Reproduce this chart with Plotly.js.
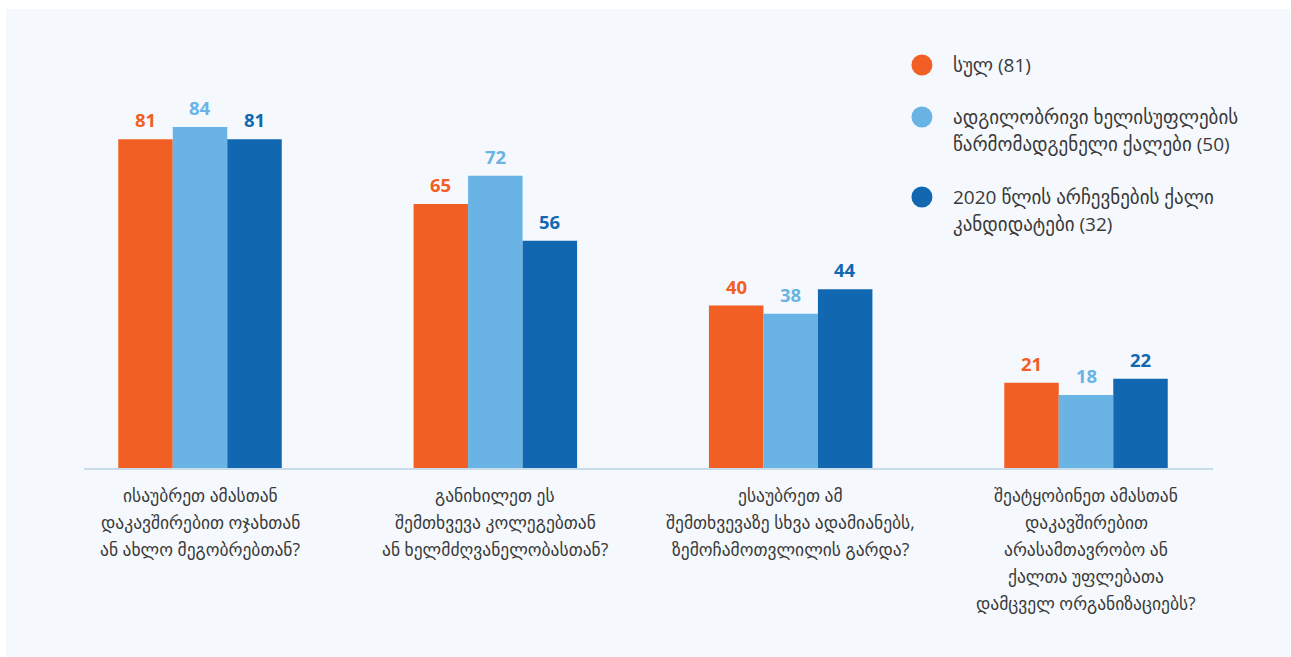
<!DOCTYPE html>
<html>
<head>
<meta charset="utf-8">
<script src="https://cdn.plot.ly/plotly-3.0.1.min.js"></script>
<style>
  html, body { margin: 0; padding: 0; background: #ffffff; }
  #chart { position: absolute; left: 6px; top: 9px; width: 1285px; height: 648px; }
</style>
</head>
<body>
<div id="chart"></div>
<script>
const categories = [
  "ისაუბრეთ ამასთან<br>დაკავშირებით ოჯახთან<br>ან ახლო მეგობრებთან?",
  "განიხილეთ ეს<br>შემთხვევა კოლეგებთან<br>ან ხელმძღვანელობასთან?",
  "ესაუბრეთ ამ<br>შემთხვევაზე სხვა ადამიანებს,<br>ზემოჩამოთვლილის გარდა?",
  "შეატყობინეთ ამასთან<br>დაკავშირებით<br>არასამთავრობო ან<br>ქალთა უფლებათა<br>დამცველ ორგანიზაციებს?"
];
const seriesNames = [
  "სულ (81)",
  "ადგილობრივი ხელისუფლების<br>წარმომადგენელი ქალები (50)",
  "2020 წლის არჩევნების ქალი<br>კანდიდატები (32)"
];
const totalValues = [81, 65, 40, 21];
const localGovValues = [84, 72, 38, 18];
const candidateValues = [81, 56, 44, 22];
const seriesColors = ["#f25f24", "#69b4e4", "#1268b0"];

const seriesValues = [totalValues, localGovValues, candidateValues];
const FONT = "'Open Sans', 'DejaVu Sans', sans-serif";
const TEXT_COLOR = "#3a3a3a";

const traces = seriesValues.map((vals, s) => ({
  type: "bar",
  name: seriesNames[s],
  x: categories,
  y: vals,
  marker: { color: seriesColors[s], line: { width: 0 } },
  showlegend: false,
  hoverinfo: "skip"
}));

const annotations = [];
const barPx = 54.5;
// value labels
seriesValues.forEach((vals, s) => {
  vals.forEach((v, i) => {
    annotations.push({
      x: i, y: v, xref: "x", yref: "y",
      text: "<b>" + v + "</b>",
      showarrow: false,
      xanchor: "center", yanchor: "bottom",
      xshift: (s - 1) * barPx, yshift: 5,
      font: { family: FONT, size: 18.5, color: seriesColors[s] }
    });
  });
});
// category labels (one annotation per line for line spacing)
categories.forEach((cat, i) => {
  cat.split("<br>").forEach((line, k) => {
    annotations.push({
      x: i, y: 0, xref: "x", yref: "y",
      text: line, showarrow: false,
      xanchor: "center", yanchor: "middle",
      yshift: -(27 + k * 27),
      font: { family: FONT, size: 17.5, color: TEXT_COLOR }
    });
  });
});

// custom legend with circle markers
const legendY = [[0.9926], [0.8645, 0.798], [0.6675, 0.601]];
const shapes = [];
seriesNames.forEach((name, s) => {
  shapes.push({
    type: "circle", xref: "paper", yref: "paper",
    xsizemode: "pixel", ysizemode: "pixel",
    xanchor: 0.7422, yanchor: legendY[s][0],
    x0: -10.5, x1: 10.5, y0: -10.5, y1: 10.5,
    fillcolor: seriesColors[s], line: { width: 0 }
  });
  name.split("<br>").forEach((line, k) => {
    annotations.push({
      x: 0.768, y: legendY[s][k], xref: "paper", yref: "paper",
      text: line, showarrow: false,
      xanchor: "left", yanchor: "middle",
      font: { family: FONT, size: 19, color: TEXT_COLOR }
    });
  });
});

const layout = {
  width: 1285, height: 648,
  paper_bgcolor: "#f5f9fd",
  plot_bgcolor: "rgba(0,0,0,0)",
  margin: { l: 78, r: 78, t: 53, b: 189 },
  barmode: "group",
  bargap: 0.4464,
  bargroupgap: 0,
  font: { family: FONT, color: TEXT_COLOR },
  xaxis: {
    type: "category",
    range: [-0.3928, 3.43],
    showticklabels: false,
    ticks: "",
    showgrid: false,
    zeroline: false,
    showline: true,
    linecolor: "#cadce7",
    linewidth: 2,
    fixedrange: true
  },
  yaxis: {
    range: [0, 100],
    visible: false,
    showgrid: false,
    zeroline: false,
    fixedrange: true
  },
  annotations: annotations,
  shapes: shapes,
  showlegend: false
};

Plotly.newPlot("chart", traces, layout, { displayModeBar: false, staticPlot: true });
</script>
</body>
</html>
